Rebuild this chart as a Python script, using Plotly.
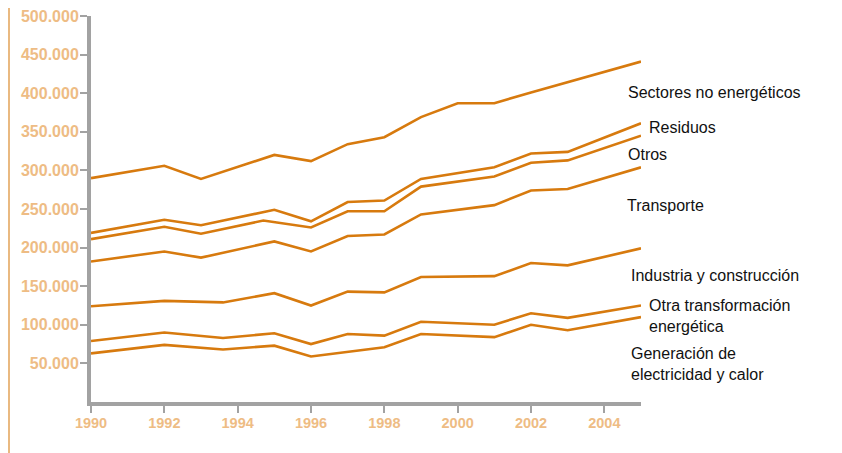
import plotly.graph_objects as go

# ---- data ----
sectores_x = [1990, 1992, 1993, 1995, 1996, 1997, 1998, 1999, 2000, 2001, 2002, 2005]
sectores_y = [290000, 306000, 289000, 320000, 312000, 334000, 343000, 369000, 387000, 387000, 401000, 441000]

residuos_x = [1990, 1992, 1993, 1995, 1996, 1997, 1998, 1999, 2001, 2002, 2003, 2005]
residuos_y = [219000, 236000, 229000, 249000, 234000, 259000, 261000, 289000, 304000, 322000, 324000, 361000]

otros_x = [1990, 1992, 1993, 1994.7, 1996, 1997, 1998, 1999, 2001, 2002, 2003, 2005]
otros_y = [211000, 227000, 218000, 235000, 226000, 247000, 247000, 279000, 292000, 310000, 313000, 345000]

transporte_x = [1990, 1992, 1993, 1995, 1996, 1997, 1998, 1999, 2001, 2002, 2003, 2005]
transporte_y = [182000, 195000, 187000, 208000, 195000, 215000, 217000, 243000, 255000, 274000, 276000, 304000]

industria_x = [1990, 1992, 1993.6, 1995, 1996, 1997, 1998, 1999, 2001, 2002, 2003, 2005]
industria_y = [124000, 131000, 129000, 141000, 125000, 143000, 142000, 162000, 163000, 180000, 177000, 199000]

otra_x = [1990, 1992, 1993.6, 1995, 1996, 1997, 1998, 1999, 2001, 2002, 2003, 2005]
otra_y = [79000, 90000, 83000, 89000, 75000, 88000, 86000, 104000, 100000, 115000, 109000, 125000]

generacion_x = [1990, 1992, 1993.6, 1995, 1996, 1998, 1999, 2001, 2002, 2003, 2005]
generacion_y = [63000, 74000, 68000, 73000, 59000, 71000, 88000, 84000, 100000, 93000, 110000]

series_names = [
    "Sectores no energéticos",
    "Residuos",
    "Otros",
    "Transporte",
    "Industria y construcción",
    "Otra transformación<br>energética",
    "Generación de<br>electricidad y calor",
]
series_x = [sectores_x, residuos_x, otros_x, transporte_x, industria_x, otra_x, generacion_x]
series_y = [sectores_y, residuos_y, otros_y, transporte_y, industria_y, otra_y, generacion_y]

# label anchors: vertical position in data units, horizontal offset (px) from plot right edge
label_y = [400300, 355300, 320900, 254300, 163600, 111700, 49000]
label_shift = [-15, 6, -15, -16, -12, 6, -12]

x_tickvals = [1990, 1992, 1994, 1996, 1998, 2000, 2002, 2004]
x_ticktext = ["1990", "1992", "1994", "1996", "1998", "2000", "2002", "2004"]
y_tickvals = [50000, 100000, 150000, 200000, 250000, 300000, 350000, 400000, 450000, 500000]
y_ticktext = ["50.000", "100.000", "150.000", "200.000", "250.000",
              "300.000", "350.000", "400.000", "450.000", "500.000"]

LINE = "#D77A0E"
TICKLBL = "#EEBC84"
AXIS = "#A2A2A2"
FONT = "Liberation Sans, Arial, Helvetica, sans-serif"

fig = go.Figure()
for name, xs, ys in zip(series_names, series_x, series_y):
    fig.add_trace(go.Scatter(x=xs, y=ys, mode="lines", name=name,
                             line=dict(color=LINE, width=2.6),
                             hoverinfo="skip", showlegend=False))

for name, ly, sh in zip(series_names, label_y, label_shift):
    fig.add_annotation(x=1, y=ly, xref="paper", yref="y", text=name, xshift=sh,
                       showarrow=False, xanchor="left", yanchor="middle",
                       align="left", font=dict(family=FONT, size=16, color="#111111"))

# decorative thin orange rule on the left edge
fig.add_shape(type="line", xref="paper", yref="paper",
              xsizemode="pixel", xanchor=0, x0=-82, x1=-82,
              y0=-0.5, y1=1.5, line=dict(color="#E2A257", width=1.5))

fig.update_layout(
    width=842, height=453,
    margin=dict(l=83, r=209, t=8, b=59, autoexpand=False),
    paper_bgcolor="white", plot_bgcolor="white",
    font=dict(family=FONT),
    xaxis=dict(range=[1990, 2005], tickvals=x_tickvals, ticktext=x_ticktext,
               showgrid=False, zeroline=False, showline=True, linecolor=AXIS,
               linewidth=4, ticks="outside", ticklen=7, tickwidth=2, tickcolor=AXIS,
               ticklabelstandoff=-2, ticklabeloverflow="allow", automargin=False,
               tickfont=dict(family=FONT, size=14.5, color=TICKLBL, weight="bold")),
    yaxis=dict(range=[0, 500000], tickvals=y_tickvals, ticktext=y_ticktext,
               showgrid=False, zeroline=False, showline=True, linecolor=AXIS,
               linewidth=4, ticks="outside", ticklen=7, tickwidth=2, tickcolor=AXIS,
               ticklabelstandoff=-2, ticklabeloverflow="allow", automargin=False,
               tickfont=dict(family=FONT, size=16, color=TICKLBL, weight="bold")),
)

fig.write_html("out.html")
